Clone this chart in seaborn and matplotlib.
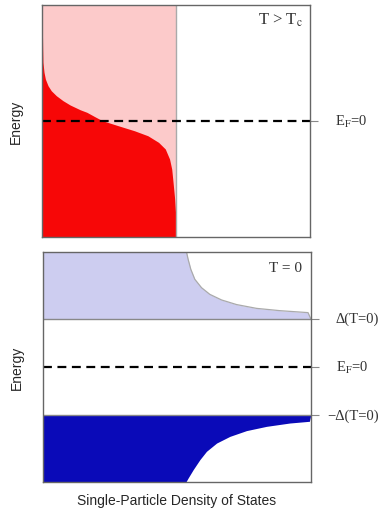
import matplotlib
matplotlib.use('Agg')
import numpy as np
import pandas as pd
import seaborn as sns
import matplotlib.pyplot as plt

# Energy axis runs from -1 to 1 with E_F = 0; DOS of normal metal = 1
gap = 0.42

# top panel (T > Tc): occupied states
e_occ = [1.0, 0.621, 0.506, 0.420, 0.362, 0.304, 0.261, 0.218, 0.175, 0.138,
         0.097, 0.075, 0.040, 0.003, -0.041, -0.084, -0.127, -0.184,
         -0.241, -0.328, -0.414, -0.528, -0.672, -0.85, -1.0]
dos_occ = [0.0, 0.005, 0.007, 0.015, 0.025, 0.045, 0.069, 0.107, 0.157, 0.210,
           0.285, 0.335, 0.390, 0.450, 0.570, 0.690, 0.790, 0.870,
           0.920, 0.952, 0.968, 0.978, 0.99, 1.0, 1.0]
e_normal = [-1.0, 1.0]
dos_normal = [1.0, 1.0]

# bottom panel (T = 0): BCS density of states above and below the gap
e_upper = [gap, 0.473, 0.490, 0.510, 0.543, 0.583, 0.632, 0.690, 0.763, 0.85, 0.937, 1.0]
dos_upper = [2.0, 1.98, 1.769, 1.595, 1.446, 1.334, 1.246, 1.184, 1.134, 1.104, 1.084, 1.072]
e_lower = [-gap, -0.472, -0.487, -0.516, -0.553, -0.603, -0.661, -0.733, -0.805,
           -0.892, -0.965, -1.0]
dos_lower = [2.0, 1.99, 1.843, 1.669, 1.52, 1.396, 1.297, 1.221, 1.172,
             1.122, 1.084, 1.067]

# right-hand level labels
top_levels = [0]
top_labels = [r'E$_\mathrm{F}$=0']
bottom_levels = [gap, 0, -gap]
bottom_labels = ['Δ(T=0)', r'E$_\mathrm{F}$=0', '−Δ(T=0)']

sns.set_style('white')
plt.rcParams['mathtext.fontset'] = 'stix'

fig = plt.figure(figsize=(3.83, 5.10), dpi=100)
ax1 = fig.add_axes([0.1097, 0.5333, 0.6997, 0.4549])
ax2 = fig.add_axes([0.1123, 0.0529, 0.6990, 0.4510])

serif = 'Liberation Serif'
grey = '#333333'

# ---- top panel
ax1.fill_betweenx(e_normal, 0, dos_normal, color='#fccaca', lw=0)
ax1.fill_betweenx(e_occ, 0, dos_occ, color='#f70707', lw=0)
sns.lineplot(x=dos_normal, y=e_normal, orient='y', ax=ax1, color='#aaaaaa', lw=1)
ax1.axhline(0, color='black', lw=1.6, ls=(0, (4, 2.5)))
ax1.text(0.974, 0.975, r'T > T$_\mathrm{c}$', transform=ax1.transAxes, ha='right',
         va='top', fontsize=12, family=serif, color=grey)

# ---- bottom panel
ax2.fill_betweenx(e_upper, 0, dos_upper, color='#cdcdf0', lw=0)
ax2.fill_betweenx(e_lower, 0, dos_lower, color='#0a0ab8', lw=0)
sns.lineplot(x=dos_upper, y=e_upper, orient='y', ax=ax2, color='#aaaaaa', lw=0.9)
ax2.axhline(gap, color='#888888', lw=1)
ax2.axhline(-gap, color='#888888', lw=1)
ax2.axhline(0, color='black', lw=1.6, ls=(0, (4, 2.5)))
ax2.text(0.966, 0.96, 'T = 0', transform=ax2.transAxes, ha='right',
         va='top', fontsize=11, family=serif, color=grey)
ax2.set_xlabel('Single-Particle Density of States', fontsize=10,
               family='Liberation Sans', labelpad=8)

for ax, levels, labels in ((ax1, top_levels, top_labels),
                           (ax2, bottom_levels, bottom_labels)):
    ax.set_xlim(0, 2)
    ax.set_ylim(-1, 1)
    ax.set_xticks([])
    ax.set_yticks(levels)
    ax.set_yticklabels([])
    ax.yaxis.tick_right()
    ax.yaxis.set_label_position('left')
    ax.tick_params(axis='y', direction='out', length=6, width=0.8, colors='#888888')
    for lev, lab in zip(levels, labels):
        xpos = 1.06 if lab.startswith('−') else 1.093
        ax.text(xpos, lev, lab, transform=ax.get_yaxis_transform(), ha='left',
                va='center', fontsize=10.5, family=serif, color=grey)
    ax.set_ylabel('Energy', fontsize=10, family='Liberation Sans', labelpad=14)
    for sp in ax.spines.values():
        sp.set_color('#666666')
        sp.set_linewidth(1.0)

fig.savefig('out.png', dpi=100)
